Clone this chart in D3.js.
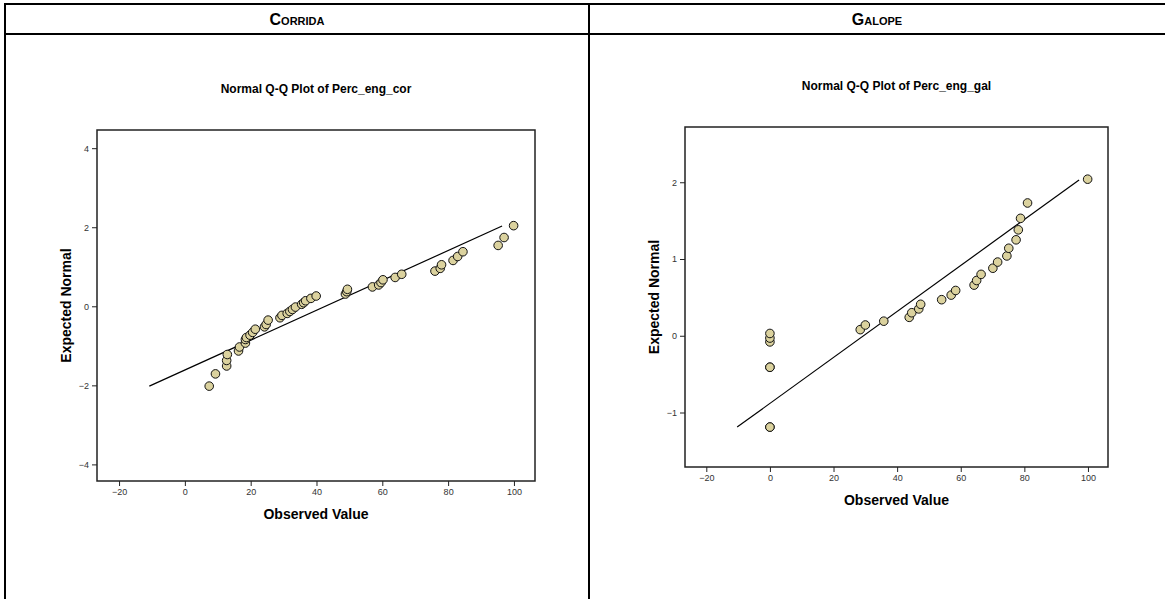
<!DOCTYPE html>
<html>
<head>
<meta charset="utf-8">
<script src="https://cdn.jsdelivr.net/npm/d3@7"></script>
<style>
  body { margin: 0; background: #fff; }
  svg { display: block; }
  .tick text { font-family: "Liberation Sans", Arial, sans-serif; font-size: 9px; fill: #333; }
  .tick line { stroke: #222; }
</style>
</head>
<body>
<script>
// Corrida: observed values vs expected normal
var corObserved = [7.4, 9.3, 12.7, 12.7, 12.9, 16.3, 16.6, 18.4, 18.4, 18.7, 19.8, 20.6, 21.4, 24.2, 24.7,
  25.3, 28.9, 29.5, 31.1, 31.9, 32.7, 33.6, 35.5, 36.1, 36.7, 38.3, 39.9, 48.8, 49.2, 49.4,
  57.0, 58.9, 59.6, 60.2, 63.9, 65.9, 76.0, 77.6, 78.0, 81.5, 82.9, 84.5, 95.2, 97.0, 99.9]
var corExpected = [-2.02, -1.71, -1.51, -1.37, -1.22, -1.13, -1.03, -0.93, -0.84, -0.79, -0.73, -0.66, -0.58, -0.52, -0.46,
  -0.35, -0.29, -0.23, -0.18, -0.13, -0.08, -0.02, 0.05, 0.09, 0.14, 0.20, 0.26, 0.31, 0.37, 0.43,
  0.49, 0.54, 0.60, 0.67, 0.73, 0.81, 0.89, 0.96, 1.05, 1.16, 1.26, 1.38, 1.54, 1.74, 2.04]
var corLineX = [-10.8, 96.4]
var corLineY = [-2.02, 2.03]

// Galope
var galObserved = [0, 0, 0, 0, 0, 0, 0, 28.4, 30.0, 35.8, 43.8, 44.6, 46.8, 47.4, 54.0, 57.0, 58.4,
  64.2, 65.0, 66.4, 70.1, 71.6, 74.5, 75.1, 77.4, 78.1, 78.8, 81.0, 99.9]
var galExpected = [-1.19, -1.19, -0.41, -0.41, -0.08, -0.03, 0.03, 0.08, 0.14, 0.19, 0.24, 0.30, 0.35, 0.41, 0.47, 0.53, 0.59,
  0.66, 0.72, 0.80, 0.88, 0.96, 1.04, 1.14, 1.25, 1.38, 1.53, 1.73, 2.04]
var galLineX = [-10.3, 97.2]
var galLineY = [-1.19, 2.03]

var xTicks = [-20, 0, 20, 40, 60, 80, 100]
var corYTicks = [-4, -2, 0, 2, 4]
var galYTicks = [-1, 0, 1, 2]
var headers = ['Corrida', 'Galope']
var titles = ['Normal Q-Q Plot of Perc_eng_cor', 'Normal Q-Q Plot of Perc_eng_gal']

var width = 1165, height = 599
var svg = d3.select('body').append('svg').attr('width', width).attr('height', height)

// table grid
var grid = svg.append('g').attr('stroke', '#000').attr('stroke-width', 2)
grid.append('line').attr('x1', 4).attr('x2', width).attr('y1', 4).attr('y2', 4)
grid.append('line').attr('x1', 4).attr('x2', width).attr('y1', 34).attr('y2', 34)
grid.append('line').attr('x1', 5).attr('x2', 5).attr('y1', 3).attr('y2', height)
grid.append('line').attr('x1', 589).attr('x2', 589).attr('y1', 3).attr('y2', height)

var headerX = [297, 877]
headers.forEach(function (h, i) {
  svg.append('text')
    .attr('x', headerX[i]).attr('y', 25)
    .attr('text-anchor', 'middle')
    .style('font-family', '"Liberation Sans Narrow", "Arial Narrow", "Liberation Sans", sans-serif')
    .style('font-weight', 'bold')
    .style('font-size', '16px')
    .style('font-variant', 'small-caps')
    .text(h)
})

function qqPlot(opt) {
  var x = d3.scaleLinear().domain(opt.xDomain).range([opt.left, opt.right])
  var y = d3.scaleLinear().domain(opt.yDomain).range([opt.bottom, opt.top])
  var g = svg.append('g')

  g.append('text')
    .attr('x', (opt.left + opt.right) / 2).attr('y', opt.top - 37)
    .attr('text-anchor', 'middle')
    .style('font-family', '"Liberation Sans", Arial, sans-serif')
    .style('font-weight', 'bold').style('font-size', '12px')
    .text(opt.title)

  g.append('g')
    .attr('transform', 'translate(' + opt.left + ',0)')
    .call(d3.axisLeft(y).tickValues(opt.yTicks).tickSize(5).tickPadding(3).tickFormat(d3.format('d')))
    .call(function (a) { a.select('.domain').remove() })

  g.append('g')
    .attr('transform', 'translate(0,' + opt.bottom + ')')
    .call(d3.axisBottom(x).tickValues(xTicks).tickSize(5).tickPadding(3).tickFormat(d3.format('d')))
    .call(function (a) { a.select('.domain').remove() })

  g.append('rect')
    .attr('x', opt.left).attr('y', opt.top)
    .attr('width', opt.right - opt.left).attr('height', opt.bottom - opt.top)
    .attr('fill', 'none').attr('stroke', '#222').attr('stroke-width', 1.5)

  g.append('text')
    .attr('transform', 'translate(' + (opt.left - 26) + ',' + ((opt.top + opt.bottom) / 2) + ') rotate(-90)')
    .attr('text-anchor', 'middle')
    .style('font-family', '"Liberation Sans", Arial, sans-serif')
    .style('font-weight', 'bold').style('font-size', '14px')
    .text('Expected Normal')

  g.append('text')
    .attr('x', (opt.left + opt.right) / 2).attr('y', opt.bottom + 38)
    .attr('text-anchor', 'middle')
    .style('font-family', '"Liberation Sans", Arial, sans-serif')
    .style('font-weight', 'bold').style('font-size', '14px')
    .text('Observed Value')

  var line = d3.line().x(function (d) { return x(d[0]) }).y(function (d) { return y(d[1]) })
  g.append('path')
    .attr('d', line(d3.zip(opt.lineX, opt.lineY)))
    .attr('fill', 'none').attr('stroke', '#000').attr('stroke-width', 1.2)

  g.selectAll('circle')
    .data(d3.zip(opt.obs, opt.exp))
    .enter().append('circle')
    .attr('cx', function (d) { return x(d[0]) })
    .attr('cy', function (d) { return y(d[1]) })
    .attr('r', 4.3)
    .attr('fill', '#dbd29e')
    .attr('stroke', '#111').attr('stroke-width', 1)
}

qqPlot({
  left: 97, right: 535, top: 130, bottom: 481,
  xDomain: [-26.7, 106.4], yDomain: [-4.42, 4.46],
  yTicks: corYTicks, title: titles[0],
  obs: corObserved, exp: corExpected, lineX: corLineX, lineY: corLineY
})

qqPlot({
  left: 685, right: 1108, top: 127, bottom: 467,
  xDomain: [-26.7, 106.3], yDomain: [-1.71, 2.72],
  yTicks: galYTicks, title: titles[1],
  obs: galObserved, exp: galExpected, lineX: galLineX, lineY: galLineY
})
</script>
</body>
</html>
